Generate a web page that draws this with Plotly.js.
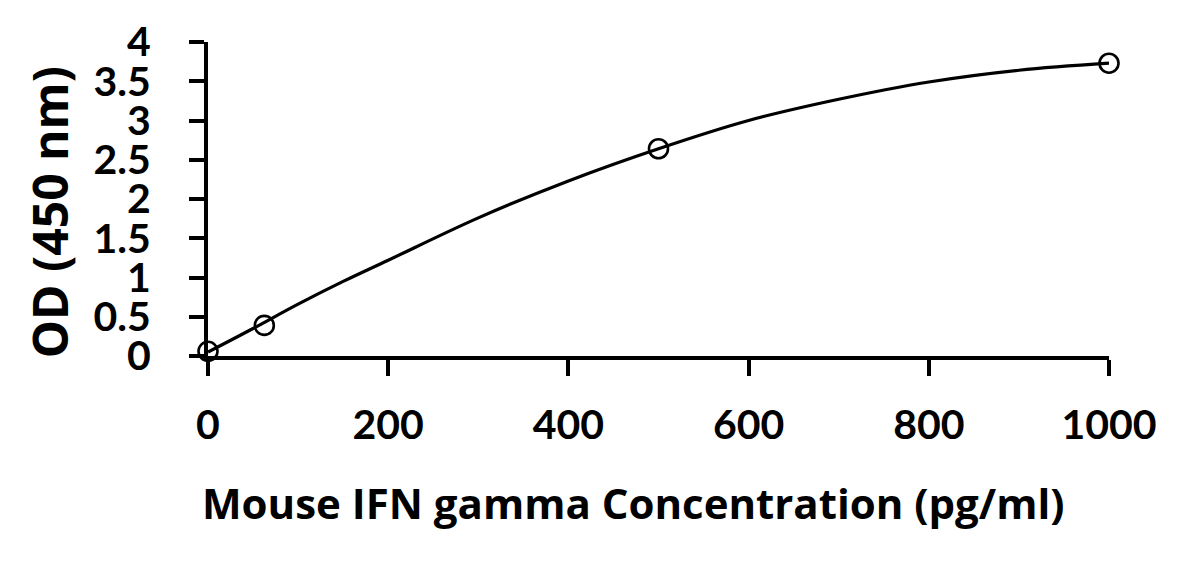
<!DOCTYPE html>
<html>
<head>
<meta charset="utf-8">
<script src="https://cdn.plot.ly/plotly-3.0.1.min.js"></script>
<style>html,body{margin:0;padding:0;background:#fff;}#chart{width:1184px;height:561px;}</style>
</head>
<body>
<div id="chart"></div>
<script>
// Standard points
var concentration = [0, 62.5, 500, 1000];
var odValues = [0.06, 0.39, 2.64, 3.73];
// Fitted curve
var curveX = [0, 50, 100, 150, 200, 300, 400, 500, 600, 700, 800, 900, 1000];
var curveY = [0.05, 0.35, 0.66, 0.95, 1.22, 1.76, 2.23, 2.64, 3.0, 3.27, 3.49, 3.64, 3.73];
var xTicks = [0, 200, 400, 600, 800, 1000];
var yTicks = [0, 0.5, 1, 1.5, 2, 2.5, 3, 3.5, 4];
var yTickText = ['0', '0.5', '1', '1.5', '2', '2.5', '3', '3.5', '4'];
var xTitle = 'Mouse IFN gamma Concentration (pg/ml)';
var yTitle = 'OD (450 nm)';

var tickFam = 'Lato, "Open Sans", sans-serif';
var titleFam = '"Open Sans", Lato, sans-serif';

var traces = [
  {
    x: curveX, y: curveY, mode: 'lines', type: 'scatter',
    line: {color: '#000', width: 3.2, shape: 'spline', smoothing: 1.0},
    hoverinfo: 'skip', showlegend: false
  },
  {
    x: concentration, y: odValues, mode: 'markers', type: 'scatter',
    marker: {symbol: 'circle-open', size: 19, color: '#000', line: {color: '#000', width: 2.6}},
    showlegend: false, cliponaxis: false
  }
];

var layout = {
  width: 1184, height: 561,
  margin: {l: 208, r: 75, t: 42, b: 205},
  paper_bgcolor: '#fff', plot_bgcolor: '#fff',
  font: {family: tickFam, color: '#000', size: 40, weight: 'bold'},
  showlegend: false,
  xaxis: {
    range: [0, 1000], tickmode: 'array', tickvals: xTicks,
    ticks: 'outside', ticklen: 16, tickwidth: 4, tickcolor: '#000',
    showline: true, linewidth: 4, linecolor: '#000',
    showgrid: false, zeroline: false,
    tickfont: {family: tickFam, size: 41, weight: 'bold', color: '#000'},
    ticklabelstandoff: 14
  },
  yaxis: {
    range: [0, 4], tickmode: 'array', tickvals: yTicks, ticktext: yTickText,
    ticks: 'outside', ticklen: 15, tickwidth: 4, tickcolor: '#000',
    showline: true, linewidth: 4, linecolor: '#000',
    showgrid: false, zeroline: false,
    tickfont: {family: tickFam, size: 41, weight: 'bold', color: '#000'},
    ticklabelstandoff: 30
  },
  annotations: [{
    text: xTitle, xref: 'paper', yref: 'paper', x: 0.472, y: -0.468,
    xanchor: 'center', yanchor: 'middle', showarrow: false,
    font: {family: titleFam, size: 42, weight: 'bold', color: '#000'}
  }, {
    text: yTitle, xref: 'paper', yref: 'paper', x: -0.175, y: 0.459,
    xanchor: 'center', yanchor: 'middle', showarrow: false, textangle: -90,
    font: {family: titleFam, size: 48, weight: 'bold', color: '#000'}
  }]
};

Plotly.newPlot('chart', traces, layout, {displayModeBar: false, staticPlot: true});
</script>
</body>
</html>
